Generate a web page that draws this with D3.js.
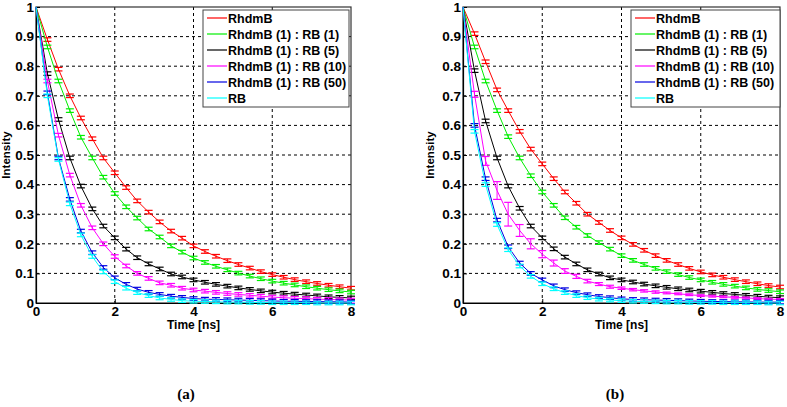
<!DOCTYPE html>
<html><head><meta charset="utf-8">
<script src="https://cdn.jsdelivr.net/npm/d3@7/dist/d3.min.js"></script>
<style>body{margin:0;background:#fff}svg{display:block}</style>
</head><body>
<script>
// ---- data ----
const times = [0,0.29,0.57,0.86,1.14,1.43,1.71,2,2.29,2.57,2.86,3.14,3.43,3.71,4,4.29,4.57,4.86,5.14,5.43,5.71,6,6.29,6.57,6.86,7.14,7.43,7.71,8];
const seriesNames = ["RhdmB","RhdmB (1) : RB (1)","RhdmB (1) : RB (5)","RhdmB (1) : RB (10)","RhdmB (1) : RB (50)","RB"];
const seriesColors = ["#ff0000","#00ee00","#000000","#ff00ff","#0000e0","#00ffff"];
const xTicks = [0,2,4,6,8];
const yTicks = [0,0.1,0.2,0.3,0.4,0.5,0.6,0.7,0.8,0.9,1];
const panelLabels = ["(a)","(b)"];

// panel (a)
const a_RhdmB = [1.0,0.89,0.79,0.70,0.625,0.555,0.49,0.44,0.39,0.345,0.307,0.274,0.243,0.219,0.193,0.174,0.158,0.143,0.130,0.118,0.106,0.096,0.087,0.079,0.072,0.066,0.060,0.055,0.050];
const a_RB1 = [1.0,0.865,0.75,0.65,0.56,0.49,0.425,0.37,0.325,0.287,0.25,0.223,0.193,0.172,0.152,0.137,0.124,0.112,0.101,0.091,0.082,0.074,0.067,0.061,0.055,0.050,0.045,0.041,0.037];
const a_RB5 = [1.0,0.775,0.62,0.49,0.395,0.318,0.26,0.22,0.182,0.153,0.132,0.115,0.098,0.088,0.078,0.070,0.063,0.057,0.051,0.046,0.041,0.037,0.033,0.030,0.027,0.024,0.021,0.019,0.017];
const a_RB10 = [1.0,0.75,0.567,0.432,0.33,0.254,0.20,0.157,0.125,0.10,0.083,0.068,0.06,0.05,0.044,0.040,0.036,0.032,0.029,0.026,0.023,0.020,0.018,0.016,0.015,0.013,0.012,0.011,0.010];
const a_RB50 = [1.0,0.71,0.49,0.35,0.243,0.17,0.12,0.085,0.063,0.047,0.036,0.029,0.023,0.019,0.015,0.013,0.012,0.011,0.010,0.009,0.008,0.007,0.006,0.006,0.005,0.005,0.004,0.004,0.003];
const a_RB = [1.0,0.70,0.485,0.335,0.23,0.157,0.105,0.072,0.05,0.035,0.025,0.017,0.012,0.008,0.006,0.005,0.004,0.003,0.003,0.002,0.002,0.001,0.001,0.001,0.001,0,0,0,0];
const a_err = [0.006,0.006,0.006,0.006,0.006,0.006];

// panel (b)
const b_RhdmB = [1.0,0.91,0.815,0.72,0.65,0.58,0.52,0.47,0.42,0.375,0.337,0.30,0.272,0.245,0.22,0.198,0.178,0.160,0.144,0.130,0.117,0.105,0.095,0.087,0.079,0.072,0.065,0.059,0.054];
const b_RB1 = [1.0,0.865,0.75,0.65,0.562,0.49,0.43,0.375,0.33,0.288,0.256,0.228,0.204,0.182,0.16,0.144,0.130,0.117,0.106,0.096,0.086,0.078,0.070,0.063,0.057,0.051,0.046,0.042,0.038];
const b_RB5 = [1.0,0.785,0.615,0.49,0.395,0.32,0.26,0.22,0.183,0.155,0.132,0.112,0.098,0.085,0.078,0.071,0.064,0.058,0.053,0.048,0.044,0.040,0.036,0.032,0.029,0.026,0.023,0.020,0.018];
const b_RB10 = [1.0,0.705,0.48,0.38,0.30,0.245,0.20,0.165,0.135,0.108,0.09,0.074,0.064,0.055,0.05,0.045,0.041,0.037,0.034,0.031,0.028,0.025,0.023,0.021,0.019,0.017,0.015,0.013,0.012];
const b_RB50 = [1.0,0.60,0.42,0.28,0.19,0.135,0.10,0.078,0.058,0.045,0.035,0.028,0.022,0.018,0.014,0.012,0.011,0.010,0.009,0.008,0.007,0.006,0.005,0.005,0.004,0.004,0.003,0.003,0.003];
const b_RB = [1.0,0.58,0.40,0.265,0.18,0.125,0.09,0.065,0.048,0.035,0.025,0.018,0.013,0.010,0.008,0.006,0.005,0.004,0.003,0.003,0.002,0.002,0.002,0.001,0.001,0.001,0.001,0,0];
const b_err = [0.006,0.006,0.006,0.006,0.006,0.006];
const b_RB10_err = [0,0.01,0.015,0.03,0.04,0.02,0.017,0.012,0.01,0.008,0.007,0.006,0.005,0.005,0.004,0.004,0.004,0.004,0.003,0.003,0.003,0.003,0.003,0.003,0.003,0.003,0.003,0.003,0.003];

const panels = [
  {series:[a_RhdmB,a_RB1,a_RB5,a_RB10,a_RB50,a_RB], err:a_err, errArr:{}, box:{l:36,r:351,t:7,b:303}, leg:{x:203,y:10,w:146,h:97,lx:207,tx:228}, ylab:6, figx:186},
  {series:[b_RhdmB,b_RB1,b_RB5,b_RB10,b_RB50,b_RB], err:b_err, errArr:{3:b_RB10_err}, box:{l:463,r:780,t:7,b:303}, leg:{x:631,y:10,w:149,h:97,lx:635,tx:656}, ylab:430, figx:615}
];

const W = 787, H = 407;
const svg = d3.select("body").append("svg").attr("width",W).attr("height",H)
  .style("font-family","'Liberation Sans', Arial, sans-serif");

panels.forEach((p,pi)=>{
  const B = p.box;
  const x = d3.scaleLinear().domain([0,8]).range([B.l,B.r]);
  const y = d3.scaleLinear().domain([0,1]).range([B.b,B.t]);
  const g = svg.append("g");

  // grid
  g.append("g").selectAll("line").data(xTicks.filter(v=>v>0&&v<8)).join("line")
    .attr("x1",d=>x(d)).attr("x2",d=>x(d)).attr("y1",B.t).attr("y2",B.b)
    .attr("stroke","#000").attr("stroke-width",1).attr("stroke-dasharray","3,3");
  g.append("g").selectAll("line").data(yTicks.filter(v=>v>0&&v<1)).join("line")
    .attr("y1",d=>y(d)).attr("y2",d=>y(d)).attr("x1",B.l).attr("x2",B.r)
    .attr("stroke","#000").attr("stroke-width",1).attr("stroke-dasharray","3,3");

  // box
  g.append("rect").attr("x",B.l).attr("y",B.t).attr("width",B.r-B.l).attr("height",B.b-B.t)
    .attr("fill","none").attr("stroke","#333").attr("stroke-width",1.2);

  // axes
  const ax = g.append("g").attr("transform",`translate(0,${B.b})`)
    .call(d3.axisBottom(x).tickValues(xTicks).tickFormat(d3.format("d")).tickSizeInner(-4).tickSizeOuter(0).tickPadding(3));
  const ay = g.append("g").attr("transform",`translate(${B.l},0)`)
    .call(d3.axisLeft(y).tickValues(yTicks).tickFormat(d=>d===0?"0":d===1?"1":d3.format(".1f")(d)).tickSizeInner(-4).tickSizeOuter(0).tickPadding(2));
  [ax,ay].forEach(a=>{
    a.select(".domain").attr("stroke","#000").attr("stroke-width",1.2);
    a.selectAll(".tick line").attr("stroke","#000");
    a.selectAll("text").attr("fill","#000").style("font-size","13.5px").style("font-weight","bold").style("font-family","'Liberation Sans', Arial, sans-serif");
  });

  // labels
  g.append("text").attr("x",(B.l+B.r)/2).attr("y",329).attr("text-anchor","middle")
    .style("font-size","12px").style("font-weight","bold").text("Time [ns]");
  g.append("text").attr("transform",`translate(${p.ylab+4},${(B.t+B.b)/2}) rotate(-90)`).attr("text-anchor","middle")
    .style("font-size","11.5px").style("font-weight","bold").text("Intensity");
  g.append("text").attr("x",p.figx).attr("y",399).attr("text-anchor","middle")
    .style("font-family","'Liberation Serif','Times New Roman',serif").style("font-size","15px").style("font-weight","bold")
    .text(panelLabels[pi]);

  // series
  const line = d3.line().x((d,i)=>x(times[i])).y(d=>y(d));
  p.series.forEach((s,si)=>{
    const col = seriesColors[si];
    const sg = g.append("g");
    sg.append("path").datum(s).attr("d",line).attr("fill","none").attr("stroke",col).attr("stroke-width",1);
    const errs = p.errArr[si] ? p.errArr[si] : s.map((v,i)=> i===0?0:p.err[si]);
    const pts = s.map((v,i)=>({t:times[i],v:v,e:errs[i]})).filter(d=>d.t>0);
    const cw = 4;
    sg.selectAll(".ev").data(pts).join("line").attr("class","ev")
      .attr("x1",d=>x(d.t)).attr("x2",d=>x(d.t)).attr("y1",d=>y(d.v-d.e)).attr("y2",d=>y(d.v+d.e))
      .attr("stroke",col).attr("stroke-width",1);
    sg.selectAll(".eh").data(pts).join("line").attr("class","eh")
      .attr("x1",d=>x(d.t)-cw).attr("x2",d=>x(d.t)+cw).attr("y1",d=>y(d.v+d.e)).attr("y2",d=>y(d.v+d.e))
      .attr("stroke",col).attr("stroke-width",1.2);
    sg.selectAll(".el").data(pts).join("line").attr("class","el")
      .attr("x1",d=>x(d.t)-cw).attr("x2",d=>x(d.t)+cw).attr("y1",d=>y(d.v-d.e)).attr("y2",d=>y(d.v-d.e))
      .attr("stroke",col).attr("stroke-width",1.2);
  });

  // legend
  const L = p.leg;
  const lg = g.append("g");
  lg.append("rect").attr("x",L.x).attr("y",L.y).attr("width",L.w).attr("height",L.h)
    .attr("fill","#fff").attr("stroke","#444").attr("stroke-width",1);
  seriesNames.forEach((nm,i)=>{
    const yy = L.y + 8 + i*16;
    lg.append("line").attr("x1",L.lx).attr("x2",L.tx-1).attr("y1",yy).attr("y2",yy)
      .attr("stroke",seriesColors[i]).attr("stroke-width",1.2);
    lg.append("text").attr("x",L.tx).attr("y",yy+4.5).style("font-size","12.5px").style("font-weight","bold").text(nm);
  });
});
</script>
</body></html>
